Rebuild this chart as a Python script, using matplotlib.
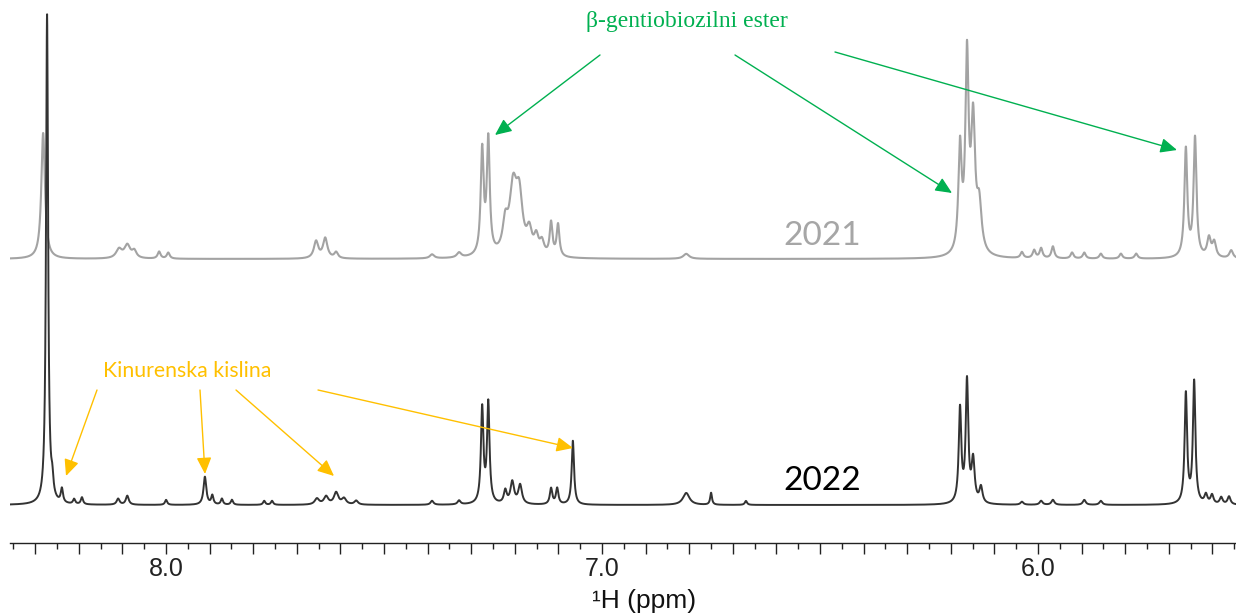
import numpy as np
import matplotlib
matplotlib.use("Agg")
import matplotlib.pyplot as plt
from matplotlib.ticker import MultipleLocator, FuncFormatter

# Peak tables: chemical shift (ppm), intensity, half-width (ppm)
ppm_2021 = [8.282, 8.108, 8.089, 8.073, 8.016, 7.995, 7.656, 7.635, 7.610,
            7.390, 7.328,
            7.275, 7.261, 7.222, 7.204, 7.190, 7.167, 7.151, 7.138, 7.117, 7.101,
            6.807,
            6.179, 6.163, 6.149, 6.135,
            6.037, 6.009, 5.993, 5.966, 5.922, 5.894, 5.856, 5.810, 5.775,
            5.661, 5.640, 5.608, 5.596, 5.557]
int_2021 = [126, 9, 13, 7, 7, 6, 17, 20, 6,
            4, 5,
            104, 114, 28, 64, 54, 22, 17, 13, 33, 32,
            5,
            104, 192, 128, 46,
            6, 8, 10, 12, 6, 6, 5, 5, 5,
            108, 119, 19, 15, 8]
hw_2021 = [0.0050, 0.008, 0.008, 0.006, 0.004, 0.004, 0.006, 0.006, 0.005,
           0.006, 0.006,
           0.0040, 0.0040, 0.007, 0.010, 0.009, 0.007, 0.006, 0.006, 0.0038, 0.0038,
           0.008,
           0.0045, 0.0045, 0.0055, 0.0065,
           0.004, 0.004, 0.004, 0.004, 0.004, 0.004, 0.004, 0.004, 0.004,
           0.0040, 0.0040, 0.005, 0.005, 0.005]

ppm_2022 = [8.273, 8.261, 8.239, 8.211, 8.193, 8.110, 8.089, 8.000,
            7.911, 7.894, 7.872, 7.849, 7.775, 7.757,
            7.654, 7.633, 7.610, 7.592, 7.564, 7.390, 7.328,
            7.275, 7.261, 7.222, 7.206, 7.188, 7.117, 7.103, 7.067,
            6.807, 6.750, 6.670,
            6.179, 6.163, 6.149, 6.131,
            6.037, 5.993, 5.966, 5.894, 5.856,
            5.661, 5.642, 5.615, 5.601, 5.580, 5.562]
int_2022 = [490, 16, 14, 5, 7, 6, 9, 5,
            28, 9, 6, 5, 4, 4,
            6, 8, 12, 6, 4, 4, 4,
            95, 100, 13, 22, 19, 16, 16, 64,
            12, 12, 4,
            94, 121, 42, 16,
            3, 4, 5, 5, 4,
            110, 122, 9, 9, 7, 8]
hw_2022 = [0.0028, 0.003, 0.003, 0.003, 0.003, 0.004, 0.004, 0.003,
           0.0038, 0.003, 0.003, 0.003, 0.003, 0.003,
           0.006, 0.006, 0.006, 0.006, 0.005, 0.004, 0.004,
           0.0034, 0.0034, 0.004, 0.005, 0.005, 0.0034, 0.0034, 0.0032,
           0.009, 0.0025, 0.003,
           0.0035, 0.0035, 0.0042, 0.0042,
           0.004, 0.004, 0.004, 0.004, 0.004,
           0.0034, 0.0034, 0.004, 0.004, 0.004, 0.004]

tick_labels = {8.0: "8.0", 7.0: "7.0", 6.0: "6.0"}

# Vertical stacking of the two traces
offset_2022 = 38
offset_2021 = 284


def spectrum(shift_axis, centres, heights, halfwidths):
    y = np.zeros_like(shift_axis)
    for c, h, w in zip(centres, heights, halfwidths):
        y += h / (1.0 + ((shift_axis - c) / w) ** 2)
    return y


x = np.linspace(8.36, 5.54, 8000)
y21 = spectrum(x, ppm_2021, int_2021, hw_2021)
y22 = spectrum(x, ppm_2022, int_2022, hw_2022)

fig = plt.figure(figsize=(12.36, 6.16), dpi=100)
ax = fig.add_axes([10 / 1236, (616 - 543) / 616, 1226 / 1236, 543 / 616])

ax.plot(x, y21 + offset_2021, color="#a3a3a3", lw=1.5, zorder=2)
ax.plot(x, y22 + offset_2022, color="#333333", lw=1.4, zorder=3)

ax.set_xlim(8.358, 5.546)
ax.set_ylim(0, 543)

for side in ("top", "left", "right"):
    ax.spines[side].set_visible(False)
ax.spines["bottom"].set_color("#222222")
ax.spines["bottom"].set_linewidth(1.0)
ax.set_yticks([])

ax.xaxis.set_major_locator(MultipleLocator(0.1))
ax.xaxis.set_minor_locator(MultipleLocator(0.05))
ax.xaxis.set_major_formatter(FuncFormatter(
    lambda v, pos: tick_labels.get(round(v, 2), "")))
ax.tick_params(axis="x", which="major", direction="out", length=8, width=1.0,
               color="#222222", labelsize=18, pad=2)
ax.tick_params(axis="x", which="minor", direction="out", length=4, width=1.0,
               color="#222222")
for lbl in ax.get_xticklabels():
    lbl.set_fontfamily("Liberation Sans")
    lbl.set_color("#222222")

ax.set_xlabel("\u00b9H (ppm)", fontsize=19, family="Liberation Sans",
              color="#111111", labelpad=2)
ax.xaxis.set_label_coords((644 - 10) / 1226, -0.085)

# Year labels
ax.text(6.495, 298, "2021", fontsize=24, family="Lato", color="#a6a6a6",
        ha="center", va="baseline")
ax.text(6.495, 53, "2022", fontsize=24, family="Lato", color="#000000",
        ha="center", va="baseline")

# Annotation helpers work in figure pixel coordinates (origin top-left)
W, H = 1236, 616


def fig_xy(px, py):
    return (px / W, 1 - py / H)


green = "#00b050"
fig.text(*fig_xy(687, 22), "\u03b2-gentiobiozilni ester", fontsize=17,
         family="Liberation Serif", color=green, ha="center", va="center")
for (sx, sy), (ex, ey) in [((600, 55), (495, 135)),
                           ((735, 55), (952, 193)),
                           ((835, 52), (1177, 150))]:
    ax.annotate("", xy=fig_xy(ex, ey), xycoords="figure fraction",
                xytext=fig_xy(sx, sy), textcoords="figure fraction",
                arrowprops=dict(arrowstyle="-|>,head_length=1.0,head_width=0.45",
                                color=green, lw=1.0, shrinkA=0, shrinkB=0))

yellow = "#ffc000"
fig.text(*fig_xy(187, 371), "Kinurenska kislina", fontsize=15.3,
         family="Lato", color=yellow, ha="center", va="center")
for (sx, sy), (ex, ey) in [((97, 390), (66, 476)),
                           ((200, 390), (205, 474)),
                           ((236, 390), (334, 476)),
                           ((318, 390), (573, 448))]:
    ax.annotate("", xy=fig_xy(ex, ey), xycoords="figure fraction",
                xytext=fig_xy(sx, sy), textcoords="figure fraction",
                arrowprops=dict(arrowstyle="-|>,head_length=1.0,head_width=0.45",
                                color=yellow, lw=1.0, shrinkA=0, shrinkB=0))

fig.savefig("out.png", dpi=100, facecolor="white")
